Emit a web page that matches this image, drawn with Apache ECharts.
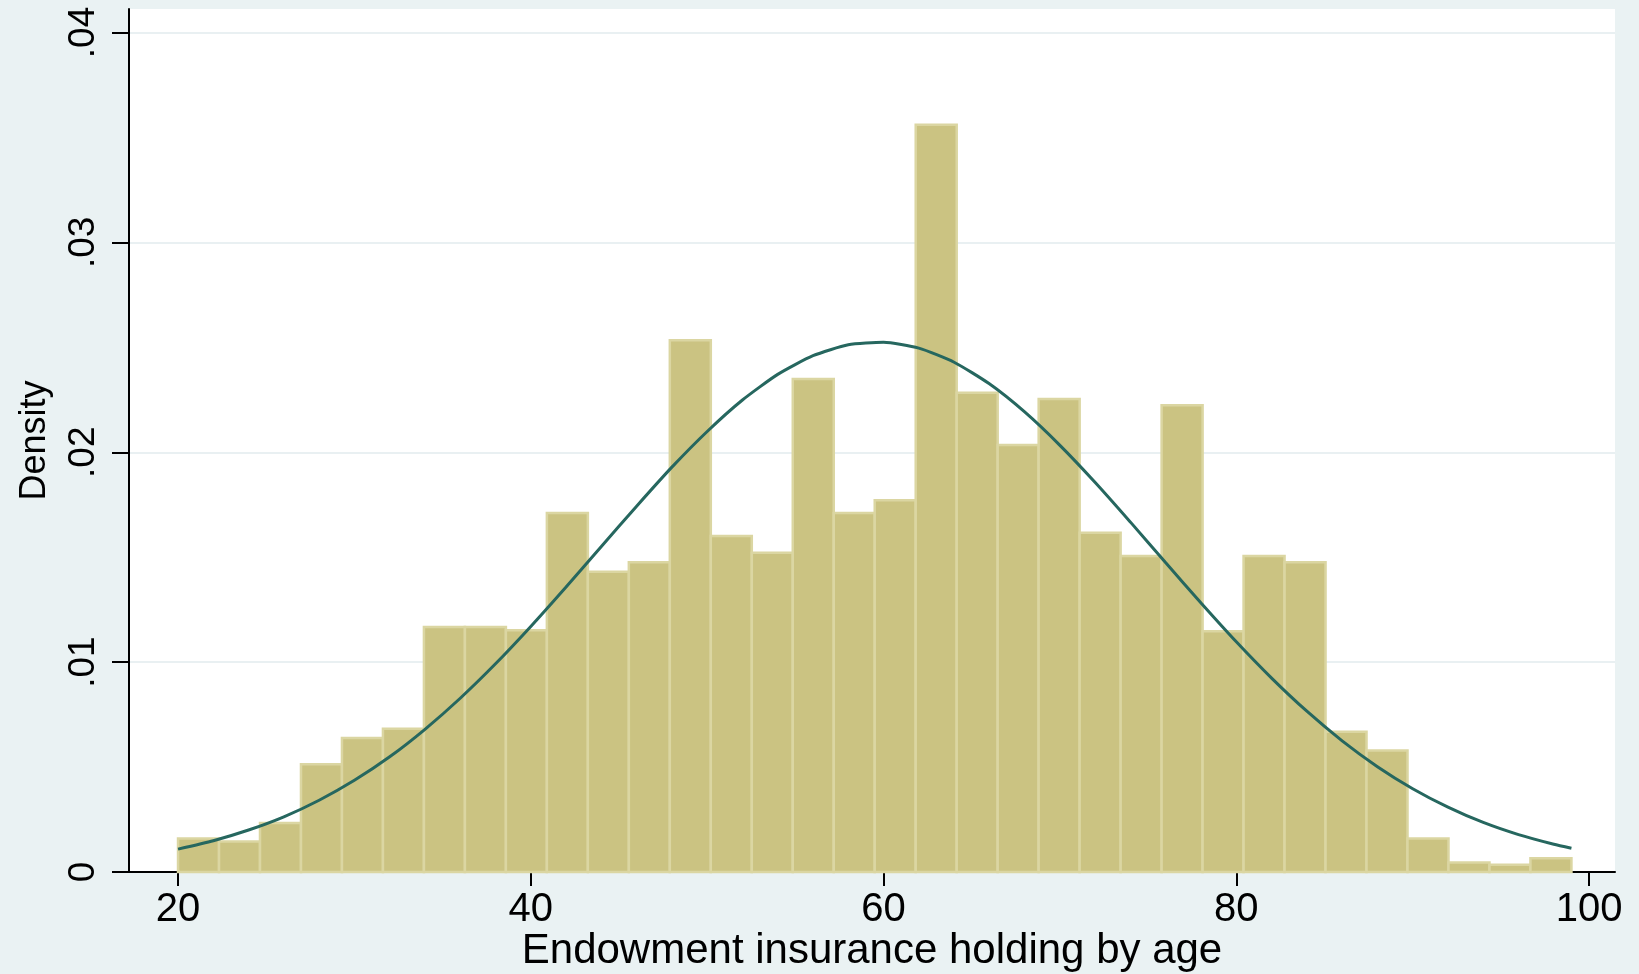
<!DOCTYPE html>
<html>
<head>
<meta charset="utf-8">
<title>Endowment insurance holding by age</title>
<script src="https://cdn.jsdelivr.net/npm/echarts@6/dist/echarts.min.js"></script>
<style>
  html, body { margin: 0; padding: 0; background: #eaf2f3; }
  #chart { width: 1639px; height: 974px; }
</style>
</head>
<body>
<div id="chart"></div>
<script>
// Histogram bins: first edge and common width (ages 20 to 99, 34 bins)
const binStart = 20;
const binWidth = 79 / 34;

// Density of each bin
const binDensity = [
  0.00160, 0.00145, 0.00234, 0.00514, 0.00638, 0.00683, 0.01167, 0.01167,
  0.01152, 0.01711, 0.01431, 0.01476, 0.02534, 0.01601, 0.01521, 0.02349,
  0.01711, 0.01771, 0.03561, 0.02284, 0.02035, 0.02254, 0.01616, 0.01506,
  0.02224, 0.01147, 0.01506, 0.01476, 0.00668, 0.00579, 0.00160, 0.00045,
  0.00035, 0.00065
];

// Fitted normal density curve
const curveAge = [20, 22, 24, 26, 28, 30, 32, 34, 36, 38, 40, 42, 44, 46, 48,
  50, 52, 54, 56, 58, 60, 62, 64, 66, 68, 70, 72, 74, 76, 78, 80, 82, 84, 86,
  88, 90, 92, 94, 96, 98, 99];
const curveDensity = [0.00109, 0.00149, 0.00200, 0.00263, 0.00342, 0.00437,
  0.00549, 0.00680, 0.00828, 0.00992, 0.01170, 0.01358, 0.01551, 0.01743,
  0.01929, 0.02099, 0.02249, 0.02371, 0.02460, 0.02512, 0.02524, 0.02496,
  0.02429, 0.02326, 0.02192, 0.02033, 0.01856, 0.01667, 0.01473, 0.01282,
  0.01097, 0.00924, 0.00766, 0.00625, 0.00502, 0.00397, 0.00309, 0.00236,
  0.00178, 0.00132, 0.00113];

// Axis ticks
const xTicks = [20, 40, 60, 80, 100];
const yTicks = [0, 0.01, 0.02, 0.03, 0.04];
const yTickLabels = ['0', '.01', '.02', '.03', '.04'];

const barData = binDensity.map((d, i) => [
  binStart + i * binWidth,
  binStart + (i + 1) * binWidth,
  d
]);
const curveData = curveAge.map((a, i) => [a, curveDensity[i]]);

const chart = echarts.init(document.getElementById('chart'), null, { renderer: 'canvas' });

chart.setOption({
  backgroundColor: '#eaf2f3',
  animation: false,
  textStyle: { fontFamily: 'Liberation Sans, Arial, sans-serif', color: '#000' },
  grid: {
    left: 129, right: 24, top: 9, bottom: 102,
    containLabel: false,
    outerBoundsMode: 'none',
    show: true, backgroundColor: '#ffffff', borderWidth: 0
  },
  xAxis: {
    type: 'value',
    min: 17.22,
    max: 101.47,
    name: 'Endowment insurance holding by age',
    nameLocation: 'middle',
    nameGap: 58,
    nameMoveOverlap: false,
    nameTextStyle: { fontSize: 42, color: '#000' },
    axisLine: { show: true, lineStyle: { color: '#000', width: 2 } },
    axisTick: { show: true, length: 14, lineStyle: { color: '#000', width: 2 }, customValues: xTicks },
    axisLabel: { fontSize: 40, color: '#000', margin: 18, customValues: xTicks },
    splitLine: { show: false }
  },
  yAxis: {
    type: 'value',
    min: 0,
    max: 0.04112,
    name: 'Density',
    nameLocation: 'middle',
    nameGap: 76,
    nameMoveOverlap: false,
    nameTextStyle: { fontSize: 36, color: '#000' },
    axisLine: { show: true, lineStyle: { color: '#000', width: 2 } },
    axisTick: { show: true, length: 17, lineStyle: { color: '#000', width: 2 }, customValues: yTicks },
    axisLabel: {
      fontSize: 37, color: '#000', rotate: 90, margin: 27,
      customValues: yTicks,
      formatter: function (v) {
        const k = yTicks.findIndex(t => Math.abs(t - v) < 1e-9);
        return k >= 0 ? yTickLabels[k] : '';
      }
    },
    splitLine: { show: true, lineStyle: { color: '#e9f0f2', width: 2 } }
  },
  series: [
    {
      type: 'custom',
      name: 'bins',
      data: barData,
      encode: { x: [0, 1], y: 2 },
      renderItem: function (params, api) {
        const p0 = api.coord([api.value(0), 0]);
        const p1 = api.coord([api.value(1), api.value(2)]);
        return {
          type: 'rect',
          shape: { x: p0[0], y: p1[1], width: p1[0] - p0[0], height: p0[1] - p1[1] },
          style: { fill: '#cbc382', stroke: '#dbd6a2', lineWidth: 2.5 }
        };
      },
      z: 2
    },
    {
      type: 'line',
      name: 'normal',
      data: curveData,
      smooth: 0.2,
      showSymbol: false,
      lineStyle: { color: '#26675f', width: 3 },
      z: 3
    }
  ]
});
</script>
</body>
</html>
